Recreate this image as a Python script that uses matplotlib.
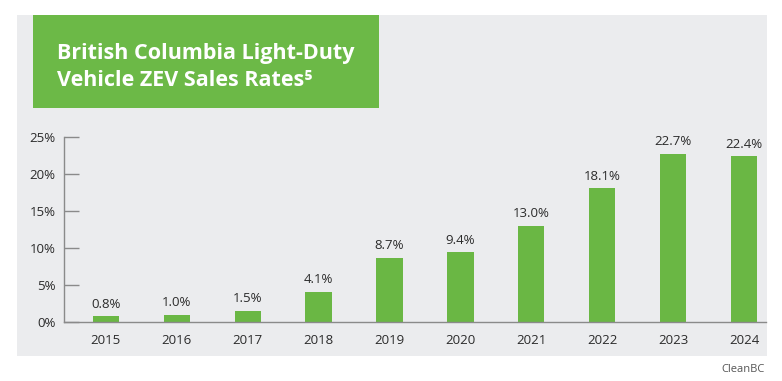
import matplotlib.pyplot as plt
from matplotlib.patches import Rectangle

years = ["2015", "2016", "2017", "2018", "2019", "2020", "2021", "2022", "2023", "2024"]
zev_rates = [0.8, 1.0, 1.5, 4.1, 8.7, 9.4, 13.0, 18.1, 22.7, 22.4]
y_ticks = [0, 5, 10, 15, 20, 25]

W, H = 782, 381
plt.rcParams["font.family"] = ["Open Sans", "DejaVu Sans"]

fig = plt.figure(figsize=(W / 100, H / 100), dpi=100)
fig.patch.set_facecolor("white")


def fx(px):
    return px / W


def fy(py):
    return 1 - py / H


# grey panel behind everything
fig.patches.append(Rectangle((fx(17), fy(356)), fx(767 - 17), (356 - 15) / H,
                             transform=fig.transFigure, facecolor="#ebecee",
                             edgecolor="none", zorder=0))
# green title box
fig.patches.append(Rectangle((fx(33), fy(108)), fx(379 - 33), (108 - 15) / H,
                             transform=fig.transFigure, facecolor="#6cb947",
                             edgecolor="none", zorder=1))
fig.text(fx(57), fy(59), "British Columbia Light-Duty", color="white",
         fontsize=15.5, fontweight="bold", va="baseline", ha="left", zorder=3)
fig.text(fx(57), fy(86), "Vehicle ZEV Sales Rates\u2075", color="white",
         fontsize=15.5, fontweight="bold", va="baseline", ha="left", zorder=3)

ax = fig.add_axes([fx(64), fy(322), fx(766 - 64), (322 - 137) / H])
ax.set_facecolor("none")
ax.set_zorder(5)

x = range(len(years))
bars = ax.bar(x, zev_rates, width=0.37, color="#6ab744", zorder=2)
for b, v in zip(bars, zev_rates):
    ax.annotate(f"{v:.1f}%", (b.get_x() + b.get_width() / 2, v),
                xytext=(0, 4), textcoords="offset points",
                ha="center", va="bottom", fontsize=9.5, color="#2b2b2b")

ax.set_xlim(-0.59, 9.31)
ax.set_ylim(0, 25)
ax.set_xticks(list(x))
ax.set_xticklabels(years)
ax.set_yticks(y_ticks)
ax.set_yticklabels([f"{t}%" for t in y_ticks])

ax.tick_params(axis="x", length=0, pad=9, labelsize=9.5, labelcolor="#2b2b2b")
ax.tick_params(axis="y", direction="in", length=11, width=1, color="#8a8a8a",
               pad=6, labelsize=9.5, labelcolor="#2b2b2b")

for side in ["top", "right"]:
    ax.spines[side].set_visible(False)
for side in ["left", "bottom"]:
    ax.spines[side].set_color("#8a8a8a")
    ax.spines[side].set_linewidth(1)

fig.text(fx(765), fy(370), "CleanBC", ha="right", va="center",
         fontsize=8, color="#555555")

plt.savefig("out.png", dpi=100)
